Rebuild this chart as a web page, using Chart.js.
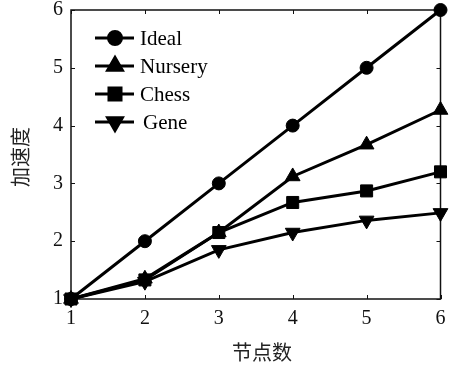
<!DOCTYPE html>
<html>
<head>
<meta charset="utf-8">
<script src="https://cdn.jsdelivr.net/npm/chart.js@4/dist/chart.umd.min.js"></script>
<style>
  html, body { margin: 0; padding: 0; background: #fff; }
  #wrap { width: 450px; height: 367px; }
</style>
</head>
<body>
<div id="wrap"><canvas id="chart" width="450" height="367"></canvas></div>
<script>
// values
const nodes = [1, 2, 3, 4, 5, 6];
const ideal = [1, 2, 3, 4, 5, 6];
const nursery = [1, 1.35, 2.15, 3.12, 3.67, 4.27];
const chess = [1, 1.33, 2.15, 2.67, 2.87, 3.2];
const gene = [1, 1.3, 1.85, 2.15, 2.36, 2.49];
const xTicks = [1, 2, 3, 4, 5, 6];
const yTicks = [1, 2, 3, 4, 5, 6];
const seriesNames = ['Ideal', 'Nursery', 'Chess', 'Gene'];
const markers = ['circle', 'triangle', 'rect', 'triangle'];
const xTitle = '节点数';
const yTitle = '加速度';

const serif = '"Liberation Serif", "DejaVu Serif", serif';
const cjk = '"Noto Sans CJK SC", sans-serif';

function toPoints(vals) {
  return nodes.map((n, i) => ({ x: n, y: vals[i] }));
}

const markerSize = { circle: 6.5, triangle: 8.5, rect: 8.5 };

const allSeries = [ideal, nursery, chess, gene];
const datasets = allSeries.map((vals, i) => ({
  label: seriesNames[i],
  data: toPoints(vals),
  borderColor: '#000',
  backgroundColor: '#000',
  borderWidth: 3,
  pointStyle: markers[i],
  pointRotation: seriesNames[i] === 'Gene' ? 180 : 0,
  pointRadius: markerSize[markers[i]],
  pointBorderWidth: 1,
  tension: 0,
  clip: false
}));

// frame, inward ticks, tick labels, titles and the legend box
const decorations = {
  id: 'decorations',
  beforeDatasetsDraw(chart) {
    const { ctx, chartArea: a, scales: { x, y } } = chart;
    ctx.save();
    ctx.strokeStyle = '#111';
    ctx.lineWidth = 1.5;
    ctx.strokeRect(a.left, a.top, a.right - a.left, a.bottom - a.top);
    ctx.lineWidth = 1;
    const t = 4;
    xTicks.forEach(v => {
      const px = Math.round(x.getPixelForValue(v)) + 0.5;
      ctx.beginPath();
      ctx.moveTo(px, a.bottom); ctx.lineTo(px, a.bottom - t);
      ctx.moveTo(px, a.top); ctx.lineTo(px, a.top + t);
      ctx.stroke();
    });
    yTicks.forEach(v => {
      const py = Math.round(y.getPixelForValue(v)) + 0.5;
      ctx.beginPath();
      ctx.moveTo(a.left, py); ctx.lineTo(a.left + t, py);
      ctx.moveTo(a.right, py); ctx.lineTo(a.right - t, py);
      ctx.stroke();
    });

    ctx.fillStyle = '#111';
    ctx.font = '20px ' + serif;
    ctx.textAlign = 'center';
    ctx.textBaseline = 'middle';
    xTicks.forEach(v => ctx.fillText(String(v), x.getPixelForValue(v), a.bottom + 20));
    ctx.textAlign = 'right';
    yTicks.forEach(v => ctx.fillText(String(v), a.left - 8, y.getPixelForValue(v)));

    ctx.font = '20px ' + cjk;
    ctx.textAlign = 'center';
    ctx.fillStyle = '#222';
    ctx.fillText(xTitle, 262, 352);
    ctx.save();
    ctx.translate(20, 157);
    ctx.rotate(-Math.PI / 2);
    ctx.fillText(yTitle, 0, 0);
    ctx.restore();
    ctx.restore();
  },
  afterDatasetsDraw(chart) {
    const { ctx } = chart;
    ctx.save();
    chart.data.datasets.forEach((ds, i) => {
      const ly = 38 + i * 28;
      ctx.strokeStyle = '#000';
      ctx.lineWidth = 3;
      ctx.beginPath();
      ctx.moveTo(95, ly); ctx.lineTo(134, ly);
      ctx.stroke();
      ctx.fillStyle = '#000';
      Chart.helpers.drawPoint(ctx, {
        pointStyle: ds.pointStyle,
        rotation: ds.pointRotation,
        radius: ds.pointRadius,
        borderWidth: 1
      }, 115, ly);
      ctx.fill();
      ctx.font = '21px ' + serif;
      ctx.textAlign = 'left';
      ctx.textBaseline = 'middle';
      ctx.fillText(ds.label, ds.label === 'Gene' ? 143 : 140, ly + 1);
    });
    ctx.restore();
  }
};

new Chart(document.getElementById('chart'), {
  type: 'line',
  data: { datasets },
  options: {
    responsive: false,
    animation: false,
    layout: { padding: { left: 71, top: 10, right: 8, bottom: 68 } },
    scales: {
      x: { type: 'linear', min: 1, max: 6, display: false },
      y: { type: 'linear', min: 1, max: 6, display: false }
    },
    plugins: { legend: { display: false }, tooltip: { enabled: false } }
  },
  plugins: [decorations]
});
</script>
</body>
</html>
